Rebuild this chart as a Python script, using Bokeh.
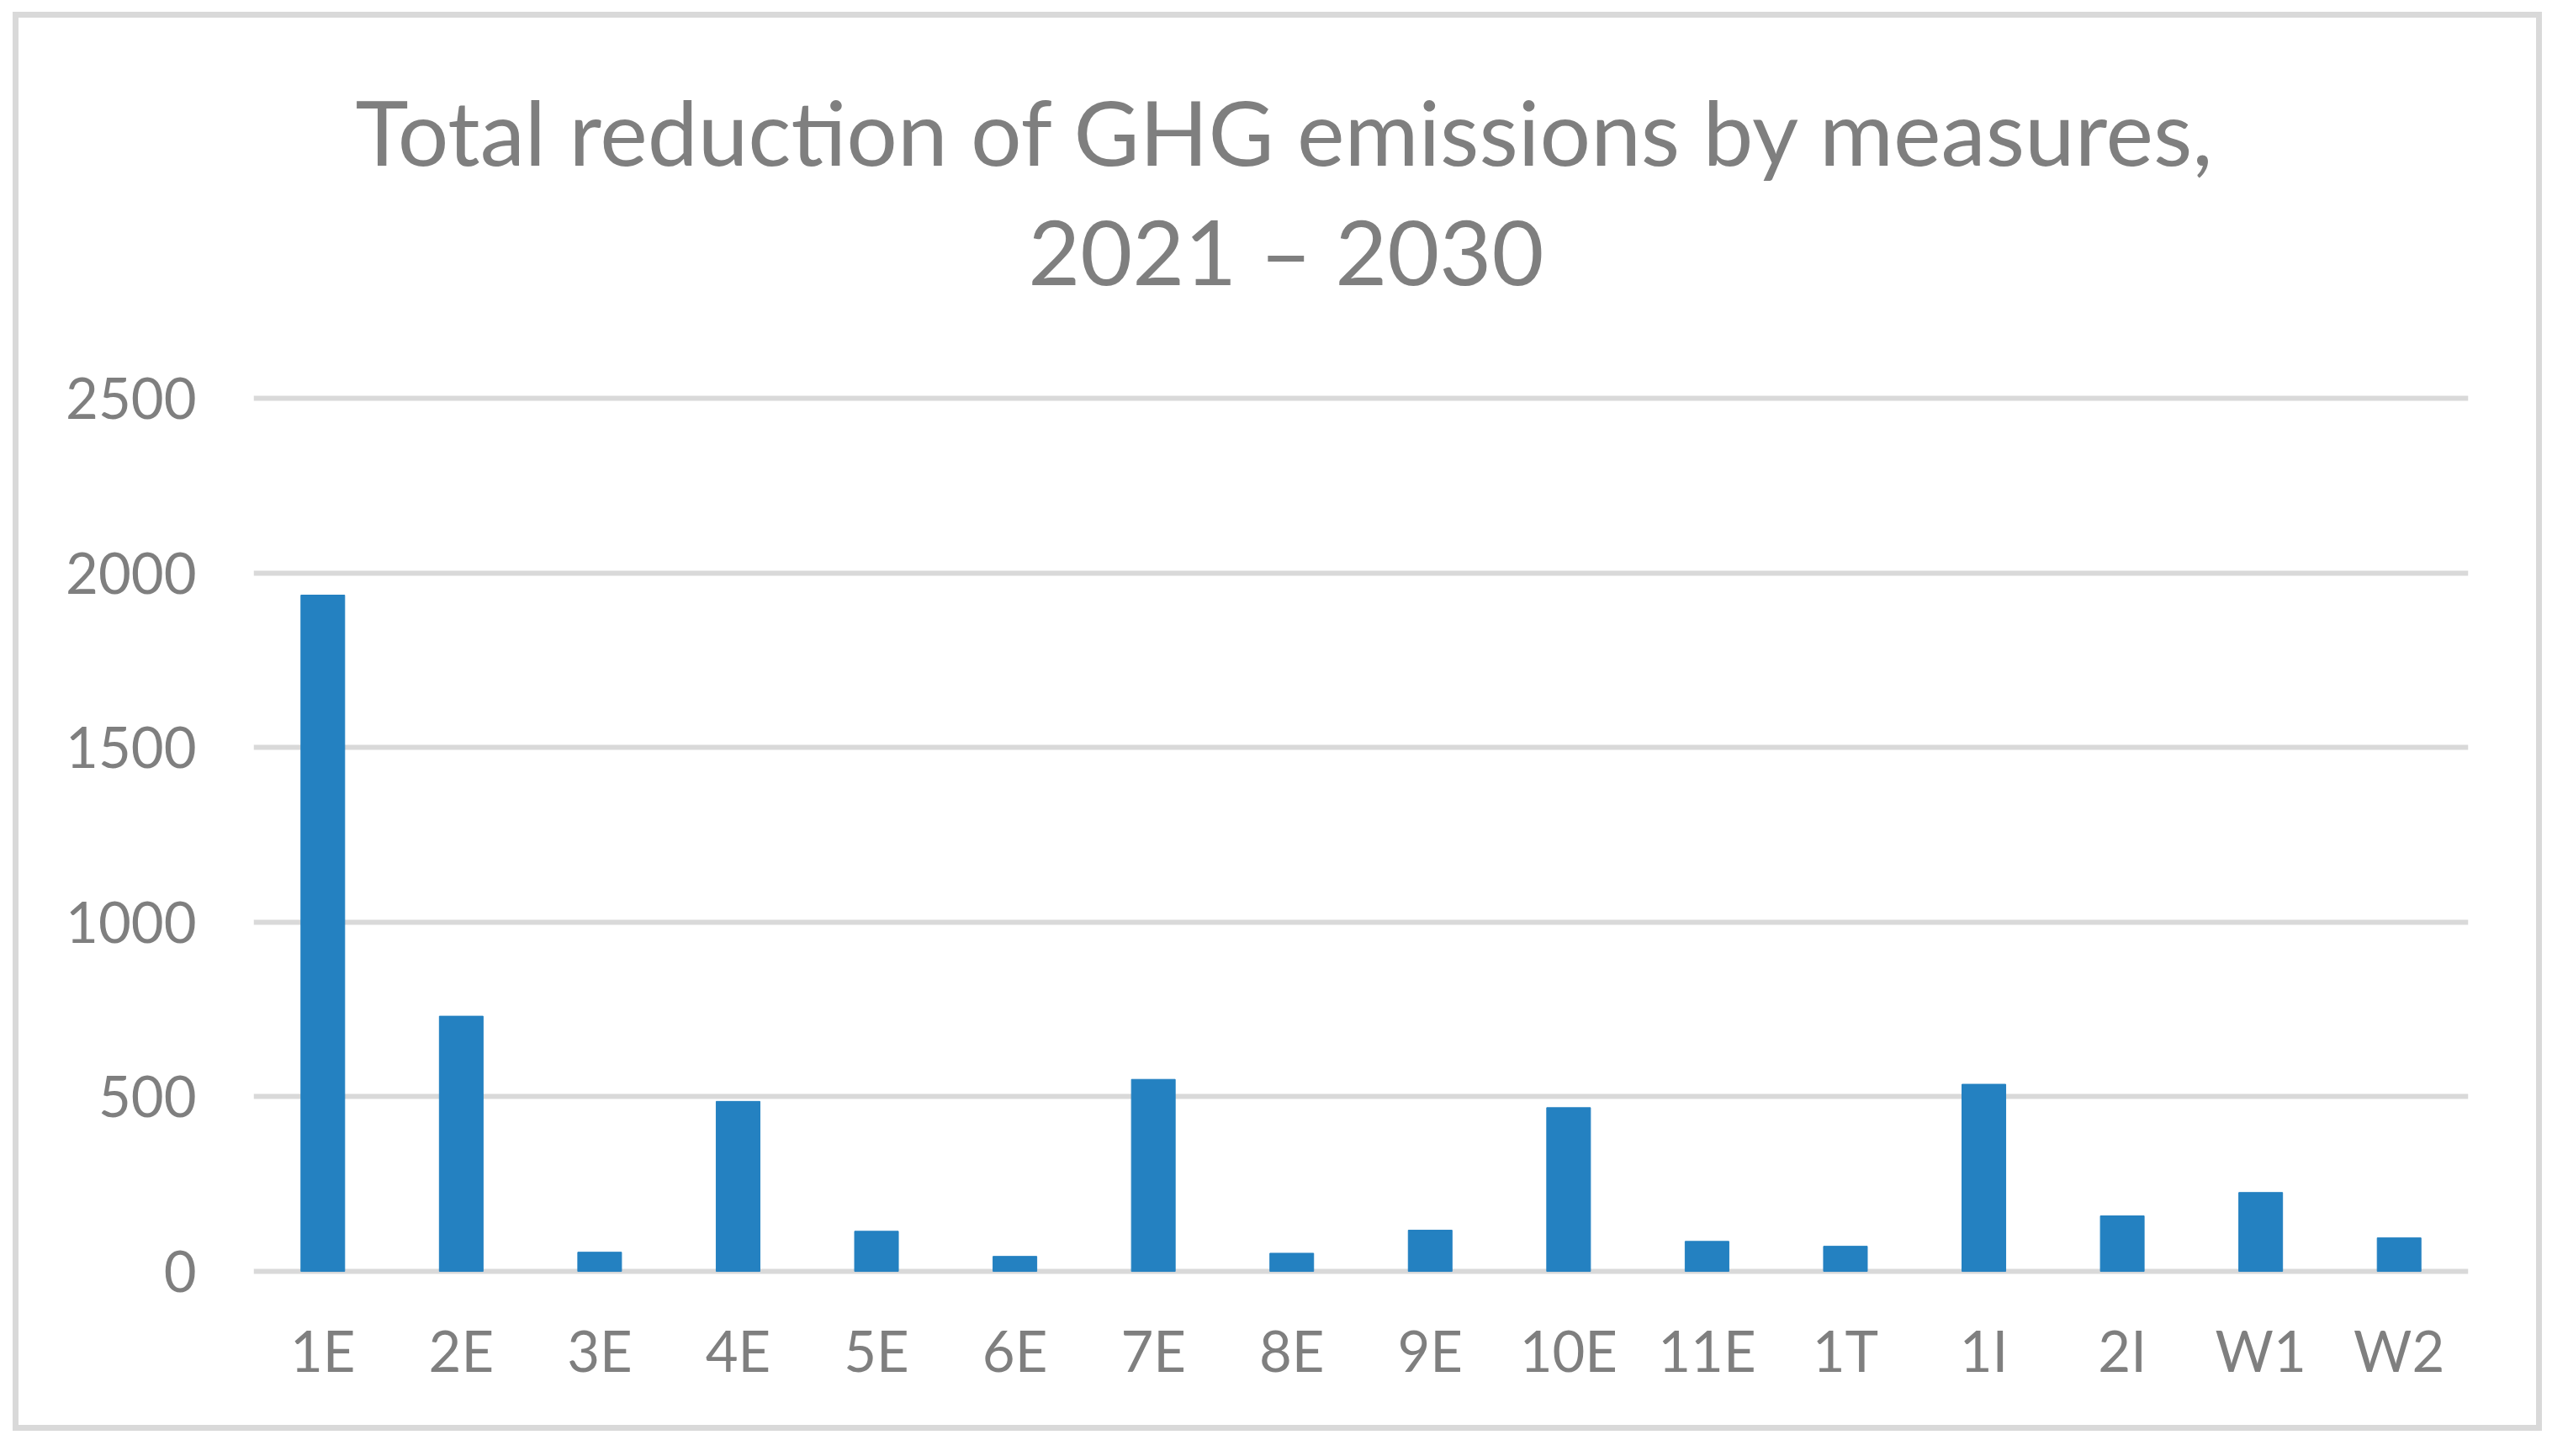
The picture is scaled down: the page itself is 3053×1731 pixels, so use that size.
from bokeh.plotting import figure
from bokeh.embed import file_html
from bokeh.resources import INLINE
from bokeh.models import FixedTicker, ColumnDataSource

# reduction of GHG emissions by measure, 2021-2030
measures = ["1E", "2E", "3E", "4E", "5E", "6E", "7E", "8E", "9E", "10E",
            "11E", "1T", "1I", "2I", "W1", "W2"]
reduction = [1937, 731, 55, 487, 115, 43, 550, 52, 118, 469,
             86, 72, 536, 159, 226, 96]
y_ticks = [0, 500, 1000, 1500, 2000, 2500]
title_lines = ["Total reduction of GHG emissions by measures,",
               "2021 \u2013 2030"]

TEXT = "#7f7f7f"
FONT = "Lato"

source = ColumnDataSource(data=dict(measure=measures, reduction=reduction))

# the title panel sets the top of the plot area here
p = figure(x_range=measures,
           y_range=(-48.1, 2606.8),
           width=3007, height=1687,
           output_backend="svg",
           toolbar_location=None,
           tools="",
           min_border_left=279, min_border_right=95,
           min_border_top=0, min_border_bottom=177)

# chart border like the office chart area
p.styles = {"border": "7px solid #d9d9d9",
            "margin-left": "15px", "margin-top": "14px"}

# centred over the whole chart, not over the plot area
p.title.text = "\n".join(title_lines)
p.title.align = "left"
p.title.offset = 121
p.title.text_align = "center"
p.title.text_font = FONT
p.title.text_font_size = "107px"
p.title.text_font_style = "normal"
p.title.text_color = TEXT
p.title.text_line_height = 1.098
p.title.standoff = 135

p.vbar(x="measure", top="reduction", bottom=0, width=0.316,
       color="#2481c1", source=source)

p.x_range.range_padding = 0
p.outline_line_color = None
p.xgrid.grid_line_color = None
p.ygrid.grid_line_color = "#d9d9d9"
p.ygrid.grid_line_width = 6

p.yaxis.ticker = FixedTicker(ticks=y_ticks)
for ax in (p.xaxis, p.yaxis):
    ax.axis_line_color = None
    ax.major_tick_line_color = None
    ax.minor_tick_line_color = None
    ax.major_tick_out = 0
    ax.major_tick_in = 0
    ax.major_label_text_font = FONT
    ax.major_label_text_font_size = "67px"
    ax.major_label_text_color = TEXT
p.yaxis.major_label_standoff = 68
p.xaxis.major_label_standoff = 33

open("out.html", "w").write(file_html(p, INLINE))
